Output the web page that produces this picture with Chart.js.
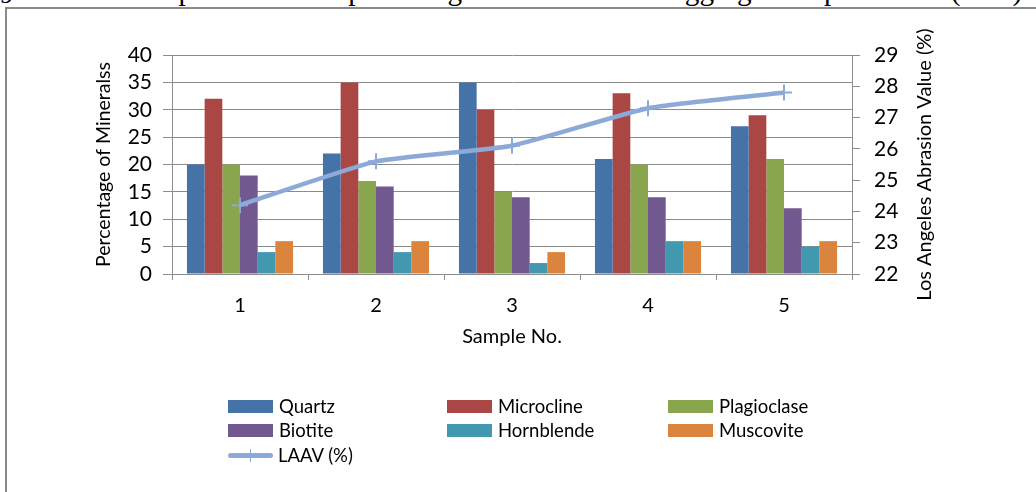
<!DOCTYPE html>
<html><head><meta charset="utf-8">
<script src="https://cdn.jsdelivr.net/npm/chart.js@4.4.1/dist/chart.umd.min.js"></script>
<style>
html,body{margin:0;padding:0;background:#fff;overflow:hidden;}
#wrap{position:relative;width:1036px;height:492px;overflow:hidden;background:#fff;}
.cap{position:absolute;top:-23px;font-family:"Liberation Serif",serif;font-size:27px;line-height:27px;white-space:pre;color:#000;}
#frame{position:absolute;left:5px;top:7px;width:1100px;height:600px;border:2px solid #8a8a8a;background:#fff;}
#c{position:absolute;left:0;top:0;}
.item{position:absolute;display:flex;align-items:center;height:22px;font-family:Lato,sans-serif;font-size:18.5px;color:#000;}
.sw{width:45px;height:13px;margin-right:6px;}
.ln{width:45px;height:13px;margin-right:5px;position:relative;}
.ln .h{position:absolute;left:0;top:4px;width:45px;height:5px;border-radius:3px;}
.ln .v{position:absolute;left:22px;top:0;width:1px;height:13px;}
</style>
</head><body>
<div id="wrap">
  <div class="cap" style="left:0px;top:-19px">9</div>
  <div class="cap" id="capMain" style="left:45px">Relationship between the percentage of minerals and aggregate impact value (AIV).</div>
  <div id="frame"></div>
  <canvas id="c" width="1036" height="492"></canvas>
  <div id="legend"></div>
</div>
<script>
const categories = ["1", "2", "3", "4", "5"];
const quartz      = [20, 22, 35, 21, 27];
const microcline  = [32, 35, 30, 33, 29];
const plagioclase = [20, 17, 15, 20, 21];
const biotite     = [18, 16, 14, 14, 12];
const hornblende  = [4, 4, 2, 6, 5];
const muscovite   = [6, 6, 4, 6, 6];
const laav        = [24.2, 25.6, 26.1, 27.3, 27.8];

const seriesNames = ["Quartz", "Microcline", "Plagioclase", "Biotite", "Hornblende", "Muscovite"];
const seriesData = [quartz, microcline, plagioclase, biotite, hornblende, muscovite];
const seriesColors = ["#4572A7", "#AA4643", "#89A54E", "#71588F", "#4198AF", "#DB843D"];
const lineName = "LAAV (%)";
const lineColor = "#8DA9D8";
const rightTitle = "Los Angeles Abrasion Value (%)";

const gridColor = "#8c8c8c";
const font = "Lato, sans-serif";

const datasets = seriesNames.map((n, i) => ({
  type: "bar", label: n, data: seriesData[i], backgroundColor: seriesColors[i],
  borderWidth: 0, yAxisID: "y", order: 1,
  categoryPercentage: 0.78, barPercentage: 1.0
}));
datasets.push({
  type: "line", label: lineName, data: laav, yAxisID: "y2", order: 0,
  borderColor: lineColor, backgroundColor: lineColor, borderWidth: 4.5,
  pointStyle: "cross", pointRadius: 8, pointBorderWidth: 2, pointBorderColor: lineColor,
  tension: 0.15, fill: false
});

(function(){
  const el = document.getElementById("capMain");
  const target = 985;
  const w = el.offsetWidth;
  el.style.fontSize = (27 * target / w).toFixed(2) + "px";
})();

const rightTitlePlugin = {
  id: "rightTitle",
  afterDraw(chart) {
    const ctx = chart.ctx, a = chart.chartArea;
    ctx.save();
    ctx.translate(925, (a.top + a.bottom) / 2);
    ctx.rotate(-Math.PI / 2);
    ctx.font = "20px " + font;
    ctx.fillStyle = "#000";
    ctx.textAlign = "center";
    ctx.textBaseline = "middle";
    ctx.fillText(rightTitle, 0, 0);
    ctx.restore();
  }
};

new Chart(document.getElementById("c"), {
  data: { labels: categories, datasets },
  plugins: [rightTitlePlugin],
  options: {
    responsive: false, animation: false,
    layout: { padding: { left: 0, right: 0, top: 55, bottom: 143 } },
    plugins: { legend: { display: false }, tooltip: { enabled: false } },
    scales: {
      x: {
        grid: { display: true, drawOnChartArea: false, tickLength: 6, color: gridColor, offset: true },
        border: { display: true, color: gridColor, width: 1 },
        ticks: { color: "#000", font: { family: font, size: 20 }, padding: 14 },
        title: { display: true, text: "Sample No.", color: "#000", font: { family: font, size: 20 }, padding: 0 },
        afterFit: s => { s.height = 75; }
      },
      y: {
        position: "left", min: 0, max: 40,
        ticks: { stepSize: 5, autoSkip: false, color: "#000", font: { family: font, size: 21 }, padding: 11 },
        grid: { color: gridColor, tickLength: 9 },
        border: { display: true, color: gridColor },
        title: { display: true, text: "Percentage of Mineralss", color: "#000", font: { family: font, size: 19.5 }, padding: { top: 92 } },
        afterFit: s => { s.width = 172; }
      },
      y2: {
        position: "right", min: 22, max: 29,
        ticks: { stepSize: 1, autoSkip: false, color: "#000", font: { family: font, size: 21 }, padding: 14 },
        grid: { drawOnChartArea: false, color: gridColor, tickLength: 8 },
        border: { display: true, color: gridColor },
        title: { display: false },
        afterFit: s => { s.width = 184; }
      }
    }
  }
});

const legend = document.getElementById("legend");
const colX = [228, 447, 668];
const rowY = [395, 419, 444];
datasets.forEach((d, i) => {
  const item = document.createElement("div");
  item.className = "item";
  item.style.left = colX[i % 3] + "px";
  item.style.top = rowY[Math.floor(i / 3)] + "px";
  if (d.type === "bar") {
    item.innerHTML = '<div class="sw" style="background:' + d.backgroundColor + '"></div><span>' + d.label + '</span>';
  } else {
    item.innerHTML = '<div class="ln"><div class="h" style="background:' + d.borderColor + '"></div><div class="v" style="background:' + d.borderColor + '"></div></div><span>' + d.label + '</span>';
  }
  legend.appendChild(item);
});
</script>
</body></html>
